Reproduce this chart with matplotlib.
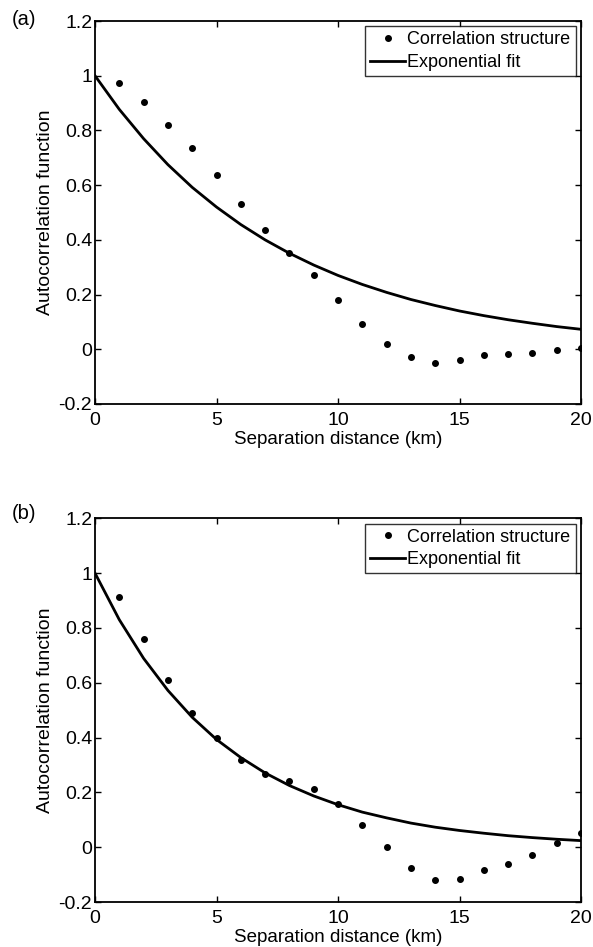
import numpy as np
import matplotlib
matplotlib.use("Agg")
import matplotlib.pyplot as plt

plt.rcParams['font.family'] = ['Liberation Sans', 'DejaVu Sans']

# ==================== DATEN ====================
distance_km = [0, 1, 2, 3, 4, 5, 6, 7, 8, 9, 10, 11, 12, 13, 14, 15, 16, 17, 18, 19, 20]
point_km = distance_km[1:]

# (a)
a_corr = [0.972, 0.903, 0.820, 0.735, 0.636, 0.532, 0.436, 0.351, 0.270, 0.179,
          0.094, 0.020, -0.028, -0.049, -0.039, -0.021, -0.017, -0.012, -0.001, 0.004]
a_fit = [1.000, 0.877, 0.770, 0.675, 0.592, 0.520, 0.456, 0.400, 0.351, 0.308, 0.270,
         0.237, 0.208, 0.182, 0.160, 0.140, 0.123, 0.108, 0.095, 0.083, 0.073]

# (b)
b_corr = [0.912, 0.759, 0.611, 0.490, 0.398, 0.319, 0.266, 0.240, 0.212, 0.158,
          0.082, -0.001, -0.075, -0.119, -0.117, -0.083, -0.061, -0.027, 0.017, 0.052]
b_fit = [1.000, 0.830, 0.689, 0.572, 0.474, 0.393, 0.327, 0.271, 0.225, 0.187, 0.155,
         0.128, 0.107, 0.088, 0.073, 0.061, 0.051, 0.042, 0.035, 0.029, 0.024]

x_ticks = [0, 5, 10, 15, 20]
y_ticks = [-0.2, 0, 0.2, 0.4, 0.6, 0.8, 1, 1.2]
y_tick_labels = ["-0.2", "0", "0.2", "0.4", "0.6", "0.8", "1", "1.2"]
panel_labels = ["(a)", "(b)"]
# ===============================================

fig = plt.figure(figsize=(5.93, 9.47), dpi=100)
boxes = [(0.1602, 0.5734, 0.8196, 0.4044), (0.1602, 0.0475, 0.8196, 0.4052)]
panels = [(a_corr, a_fit), (b_corr, b_fit)]
label_y = [1.003, 1.013]

for box, (corr, fit), label, ly in zip(boxes, panels, panel_labels, label_y):
    ax = fig.add_axes(box)
    ax.plot(point_km, corr, "o", color="black", markersize=4, label="Correlation structure")
    ax.plot(distance_km, fit, "-", color="black", linewidth=2, label="Exponential fit")

    ax.set_xlim(0, 20)
    ax.set_ylim(-0.2, 1.2)
    ax.set_xticks(x_ticks)
    ax.set_xticklabels([str(t) for t in x_ticks])
    ax.set_yticks(y_ticks)
    ax.set_yticklabels(y_tick_labels)
    ax.tick_params(direction="in", length=4, width=1, top=True, right=True,
                   labelsize=14, pad=2, colors="black")
    ax.tick_params(axis="x", pad=6)
    for s in ax.spines.values():
        s.set_linewidth(1.3)

    ax.set_xlabel("Separation distance (km)", fontsize=13.5, labelpad=1)
    ax.set_ylabel("Autocorrelation function", fontsize=14, labelpad=3)

    leg = ax.legend(loc="upper right", fontsize=13, frameon=True, fancybox=False,
                    edgecolor="black", borderpad=0.28, handlelength=1.9,
                    handletextpad=0.15, labelspacing=0.3, borderaxespad=0.3)
    leg.get_frame().set_linewidth(1.0)

    ax.text(-0.171, ly, label, transform=ax.transAxes, fontsize=14.5,
            ha="left", va="center")

fig.savefig("out.png", dpi=100)
plt.close(fig)
